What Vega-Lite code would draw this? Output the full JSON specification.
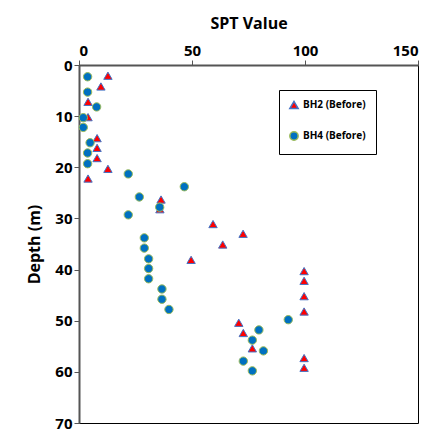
{
  "$schema": "https://vega.github.io/schema/vega-lite/v6.json",
  "width": 339,
  "height": 358,
  "autosize": "none",
  "padding": {"left": 79, "top": 65, "right": 14, "bottom": 10},
  "background": "white",
  "config": {"font": "Open Sans", "view": {"stroke": "black", "strokeWidth": 1}},
  "data": {
    "values": [
      {"s": "BH2 (Before)", "x": 12.8, "d": 2.1},
      {"s": "BH2 (Before)", "x": 9.7, "d": 4.2},
      {"s": "BH2 (Before)", "x": 4, "d": 7.2},
      {"s": "BH2 (Before)", "x": 4, "d": 10.2},
      {"s": "BH2 (Before)", "x": 8, "d": 14.3},
      {"s": "BH2 (Before)", "x": 8, "d": 16.2},
      {"s": "BH2 (Before)", "x": 8, "d": 18.2},
      {"s": "BH2 (Before)", "x": 12.8, "d": 20.3},
      {"s": "BH2 (Before)", "x": 4, "d": 22.2},
      {"s": "BH2 (Before)", "x": 36.3, "d": 26.3},
      {"s": "BH2 (Before)", "x": 35.8, "d": 28.2},
      {"s": "BH2 (Before)", "x": 59.3, "d": 31.1},
      {"s": "BH2 (Before)", "x": 72.6, "d": 33},
      {"s": "BH2 (Before)", "x": 63.6, "d": 35.1},
      {"s": "BH2 (Before)", "x": 49.6, "d": 38.1},
      {"s": "BH2 (Before)", "x": 99.6, "d": 40.3},
      {"s": "BH2 (Before)", "x": 99.6, "d": 42.2},
      {"s": "BH2 (Before)", "x": 99.6, "d": 45.2},
      {"s": "BH2 (Before)", "x": 99.6, "d": 48.2},
      {"s": "BH2 (Before)", "x": 70.7, "d": 50.4},
      {"s": "BH2 (Before)", "x": 72.7, "d": 52.4},
      {"s": "BH2 (Before)", "x": 76.7, "d": 55.4},
      {"s": "BH2 (Before)", "x": 99.6, "d": 57.3},
      {"s": "BH2 (Before)", "x": 99.6, "d": 59.2},
      {"s": "BH4 (Before)", "x": 3.8, "d": 2.3},
      {"s": "BH4 (Before)", "x": 3.8, "d": 5.3},
      {"s": "BH4 (Before)", "x": 7.8, "d": 8.2},
      {"s": "BH4 (Before)", "x": 1.9, "d": 10.3},
      {"s": "BH4 (Before)", "x": 1.9, "d": 12.2},
      {"s": "BH4 (Before)", "x": 4.9, "d": 15.2},
      {"s": "BH4 (Before)", "x": 3.8, "d": 17.2},
      {"s": "BH4 (Before)", "x": 3.8, "d": 19.3},
      {"s": "BH4 (Before)", "x": 21.8, "d": 21.3},
      {"s": "BH4 (Before)", "x": 46.6, "d": 23.8},
      {"s": "BH4 (Before)", "x": 26.7, "d": 25.8},
      {"s": "BH4 (Before)", "x": 35.7, "d": 27.8},
      {"s": "BH4 (Before)", "x": 21.8, "d": 29.3},
      {"s": "BH4 (Before)", "x": 28.9, "d": 33.8},
      {"s": "BH4 (Before)", "x": 28.9, "d": 35.8},
      {"s": "BH4 (Before)", "x": 30.8, "d": 37.9},
      {"s": "BH4 (Before)", "x": 30.8, "d": 39.8},
      {"s": "BH4 (Before)", "x": 30.8, "d": 41.8},
      {"s": "BH4 (Before)", "x": 36.7, "d": 43.8},
      {"s": "BH4 (Before)", "x": 36.7, "d": 45.8},
      {"s": "BH4 (Before)", "x": 39.8, "d": 47.8},
      {"s": "BH4 (Before)", "x": 92.6, "d": 49.8},
      {"s": "BH4 (Before)", "x": 79.6, "d": 51.8},
      {"s": "BH4 (Before)", "x": 76.7, "d": 53.8},
      {"s": "BH4 (Before)", "x": 81.6, "d": 55.9},
      {"s": "BH4 (Before)", "x": 72.7, "d": 57.9},
      {"s": "BH4 (Before)", "x": 76.7, "d": 59.8}
    ]
  },
  "mark": {"type": "point", "filled": true, "size": 70, "strokeWidth": 1, "opacity": 1},
  "encoding": {
    "x": {
      "field": "x", "type": "quantitative",
      "scale": {"domain": [0, 150], "nice": false},
      "axis": {"orient": "top", "title": "SPT Value", "values": [0, 50, 100, 150], "grid": false,
        "labelFontSize": 15, "labelFontWeight": "bold", "titleFontSize": 16, "titleFontWeight": "bold",
        "domainColor": "#555", "domainWidth": 2, "tickColor": "#555", "labelColor": "black", "titlePadding": 12}
    },
    "y": {
      "field": "d", "type": "quantitative",
      "scale": {"domain": [0, 70], "reverse": true, "nice": false},
      "axis": {"title": "Depth (m)", "values": [0, 10, 20, 30, 40, 50, 60, 70], "grid": false,
        "labelFontSize": 15, "labelFontWeight": "bold", "titleFontSize": 16, "titleFontWeight": "bold",
        "domainColor": "#555", "domainWidth": 2, "tickColor": "#555", "labelColor": "black", "titlePadding": 12}
    },
    "shape": {
      "field": "s", "type": "nominal",
      "scale": {"range": ["triangle-up", "circle"]},
      "legend": {"title": null, "orient": "none", "legendX": 200, "legendY": 25, "strokeColor": "black",
        "padding": 10, "rowPadding": 16, "labelFontSize": 10, "labelFontWeight": "bold", "symbolSize": 70}
    },
    "fill": {"field": "s", "type": "nominal", "scale": {"range": ["#ff0000", "#0070c0"]}, "legend": null},
    "stroke": {"field": "s", "type": "nominal", "scale": {"range": ["#4472c4", "#9bbb59"]}, "legend": null}
  }
}
